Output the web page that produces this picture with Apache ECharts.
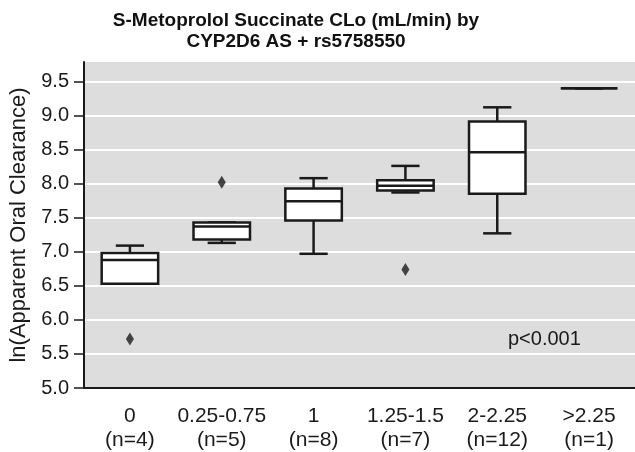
<!DOCTYPE html>
<html>
<head>
<meta charset="utf-8">
<script src="https://cdn.jsdelivr.net/npm/echarts@6/dist/echarts.min.js"></script>
<style>
    html, body { margin: 0; padding: 0; background: #ffffff; }
    #chart { width: 635px; height: 452px; }
</style>
</head>
<body>
<div id="chart"></div>
<script>
    // groups of CYP2D6 AS + rs5758550
    var groups = ['0', '0.25-0.75', '1', '1.25-1.5', '2-2.25', '>2.25'];
    var counts = [4, 5, 8, 7, 12, 1];

    // box statistics, ln(CLo)
    var whiskerLow  = [6.53, 7.13, 6.97, 7.87, 7.27, 9.40];
    var q1          = [6.53, 7.18, 7.46, 7.90, 7.85, 9.40];
    var median      = [6.88, 7.37, 7.74, 7.97, 8.46, 9.40];
    var q3          = [6.98, 7.43, 7.93, 8.05, 8.91, 9.40];
    var whiskerHigh = [7.09, 7.43, 8.08, 8.26, 9.12, 9.40];

    // outliers: [group index, value]
    var outliers = [[0, 5.72], [1, 8.02], [3, 6.74]];

    var yTicks = [5.0, 5.5, 6.0, 6.5, 7.0, 7.5, 8.0, 8.5, 9.0, 9.5];

    var categories = groups.map(function (g, i) {
        return g + '\n(n=' + counts[i] + ')';
    });
    var boxData = groups.map(function (g, i) {
        return [i, whiskerLow[i], q1[i], median[i], q3[i], whiskerHigh[i]];
    });

    var ink = '#1a1a1a';
    var font = '"Liberation Sans", Arial, sans-serif';

    function renderBox(params, api) {
        var i = api.value(0);
        var pLo = api.coord([i, api.value(1)]);
        var pQ1 = api.coord([i, api.value(2)]);
        var pMed = api.coord([i, api.value(3)]);
        var pQ3 = api.coord([i, api.value(4)]);
        var pHi = api.coord([i, api.value(5)]);
        var band = api.size([1, 0])[0];
        var bw = band * 0.615;
        var cw = bw / 2;
        var cx = pMed[0];
        var line = { stroke: ink, lineWidth: 2.5 };
        return {
            type: 'group',
            children: [
                { type: 'line', shape: { x1: cx, y1: pQ3[1], x2: cx, y2: pHi[1] }, style: line },
                { type: 'line', shape: { x1: cx - cw / 2, y1: pHi[1], x2: cx + cw / 2, y2: pHi[1] }, style: line },
                { type: 'line', shape: { x1: cx, y1: pQ1[1], x2: cx, y2: pLo[1] }, style: line },
                { type: 'line', shape: { x1: cx - cw / 2, y1: pLo[1], x2: cx + cw / 2, y2: pLo[1] }, style: line },
                {
                    type: 'rect',
                    shape: { x: cx - bw / 2, y: pQ3[1], width: bw, height: pQ1[1] - pQ3[1] },
                    style: { fill: '#ffffff', stroke: ink, lineWidth: 2.5 }
                },
                { type: 'line', shape: { x1: cx - bw / 2, y1: pMed[1], x2: cx + bw / 2, y2: pMed[1] }, style: line }
            ]
        };
    }

    var chart = echarts.init(document.getElementById('chart'), null, { renderer: 'canvas' });
    var option = {
        animation: false,
        backgroundColor: '#ffffff',
        textStyle: { fontFamily: font },
        grid: {
            left: 84, right: -2, top: 62, bottom: 59.5,
            show: true, backgroundColor: '#dddddd', borderWidth: 0
        },
        graphic: [
            {
                type: 'text', x: 296, y: 10,
                style: {
                    text: 'S-Metoprolol Succinate CLo (mL/min) by\nCYP2D6 AS + rs5758550',
                    font: 'bold 19px ' + font, lineHeight: 21,
                    align: 'center', verticalAlign: 'top', fill: '#111111'
                }
            },
            {
                type: 'text', x: 508, y: 329,
                style: {
                    text: 'p<0.001', font: '20px ' + font,
                    align: 'left', verticalAlign: 'top', fill: ink
                },
                z: 100
            }
        ],
        xAxis: {
            type: 'category',
            data: categories,
            boundaryGap: true,
            axisLine: { lineStyle: { color: ink, width: 2 } },
            axisTick: { alignWithLabel: true, length: 10, lineStyle: { color: ink, width: 1.5 } },
            axisLabel: { color: ink, fontSize: 21, lineHeight: 24, margin: 16, interval: 0 },
            splitLine: { show: false }
        },
        yAxis: {
            type: 'value',
            min: 5, max: 9.785, interval: 0.5,
            name: 'ln(Apparent Oral Clearance)',
            nameLocation: 'middle',
            nameGap: 49,
            nameTextStyle: { color: ink, fontSize: 22 },
            axisLine: { show: true, lineStyle: { color: ink, width: 2 } },
            axisTick: { show: true, length: 10, customValues: yTicks, lineStyle: { color: ink, width: 1.5 } },
            axisLabel: {
                color: ink, fontSize: 20, margin: 15, customValues: yTicks,
                formatter: function (v) { return v.toFixed(1); }
            },
            splitLine: { show: true, lineStyle: { color: '#ffffff', width: 2 } }
        },
        series: [
            {
                type: 'custom',
                renderItem: renderBox,
                data: boxData,
                encode: { x: 0, y: [1, 2, 3, 4, 5] },
                z: 5
            },
            {
                type: 'scatter',
                data: outliers,
                symbol: 'diamond',
                symbolSize: [8, 13],
                itemStyle: { color: ink },
                z: 6
            }
        ]
    };
    chart.setOption(option);
</script>
</body>
</html>
